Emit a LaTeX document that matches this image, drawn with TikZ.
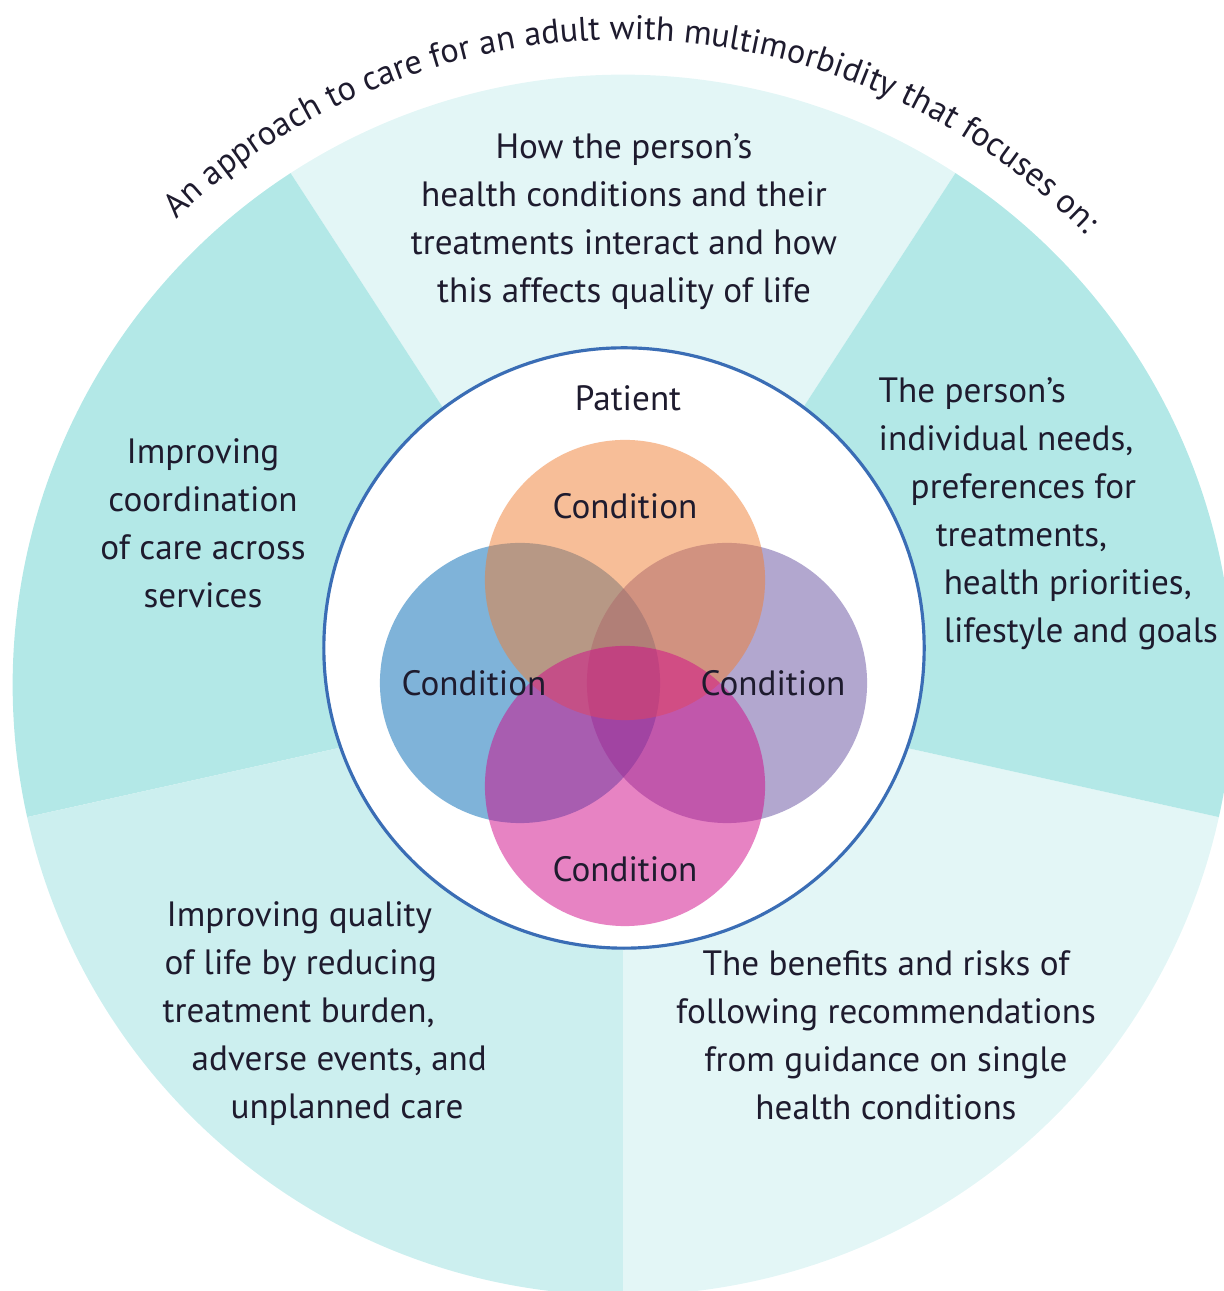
\documentclass[tikz,border=0pt]{standalone}
\usepackage{fontspec}
\setmainfont{PT Sans}
\usetikzlibrary{decorations.text}
\definecolor{segLight}{HTML}{E3F6F6}
\definecolor{segMid}{HTML}{CCEFEF}
\definecolor{segDark}{HTML}{B3E8E7}
\definecolor{rimBlue}{HTML}{3A6DB5}
\definecolor{ink}{HTML}{1E1B2E}
\definecolor{condBlue}{HTML}{0069B5}
\definecolor{condPurple}{HTML}{6751A1}
\definecolor{condOrange}{HTML}{F07E33}
\definecolor{condPink}{HTML}{D10989}

\begin{document}
\begin{tikzpicture}[x=0.01cm, y=0.01cm,
  txt/.style={font=\fontsize{10}{13.66}\selectfont, text=ink, inner sep=0pt},
  venn/.style={circle, minimum size=2.8cm, inner sep=0pt, fill opacity=0.5}]
\useasboundingbox (0,0) rectangle (1223,1291);
\coordinate (hub) at (623,606);

% outer wedges
\foreach \a/\b/\col in {57/123/segLight, 123/192.5/segDark, 192.5/270/segMid, 270/347.5/segLight, 347.5/417/segDark}
  \fill[\col] (hub) -- ++(\a:6.1cm) arc[start angle=\a, end angle=\b, radius=6.1cm] -- cycle;

% title round the top
\path[decorate, decoration={text along path, text align=center, text color=ink,
  text={|\fontsize{9.7}{12}\selectfont|An approach to care for an adult with multimorbidity that focuses on:}}]
  ([shift={(135:6.45cm)}]hub) arc[start angle=135, end angle=43, radius=6.45cm];

% patient ring
\node[circle, draw=rimBlue, line width=0.9pt, fill=white, minimum size=6cm, inner sep=0pt] (ring) at (624,643) {};
\node[txt] (patient) at (628,893) {Patient};

% conditions
\node[venn, fill=condBlue] (blue) at (520,608) {};
\node[venn, fill=condPurple] (purple) at (727,608) {};
\node[venn, fill=condOrange] (orange) at (625,711) {};
\node[venn, fill=condPink] (pink) at (625,505) {};
\node[txt] (condTop) at (625,785) {Condition};
\node[txt] (condLeft) at (474,608) {Condition};
\node[txt] (condRight) at (773,608) {Condition};
\node[txt] (condBottom) at (625,422) {Condition};

% wedge texts
\node[txt, align=center] (interact) at (624,1069) {How the person’s\\health conditions and their\\treatments interact and how\\this affects quality of life};
\node[txt, align=center] (coord) at (203,768) {Improving\\coordination\\of care across\\services};
\node[txt, align=left, anchor=west] (needs) at (878,777.5) {The person’s\\individual needs,\\\hspace*{0.32cm}preferences for\\\hspace*{0.57cm}treatments,\\\hspace*{0.65cm}health priorities,\\\hspace*{0.65cm}lifestyle and goals};
\node[txt, align=left, anchor=west] (quality) at (162,277.5) {\hspace*{0.04cm}Improving quality\\\hspace*{0.02cm}of life by reducing\\treatment burden,\\\hspace*{0.29cm}adverse events, and\\\hspace*{0.68cm}unplanned care};
\node[txt, align=center] (risks) at (886,255.5) {The benefits and risks of\\following recommendations\\from guidance on single\\health conditions};
\end{tikzpicture}
\end{document}
